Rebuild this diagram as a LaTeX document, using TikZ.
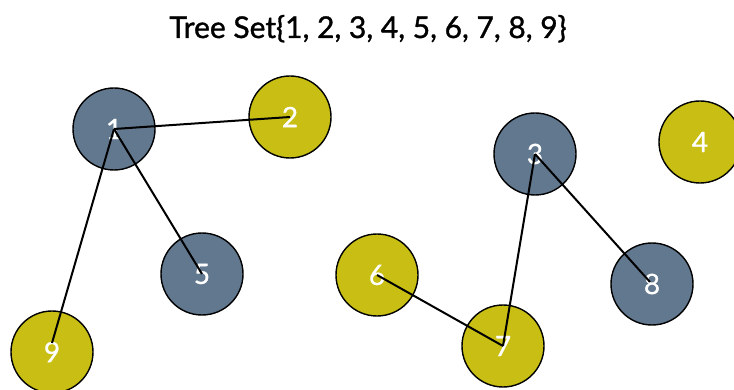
\documentclass[tikz,border=0pt]{standalone}
\usepackage{fontspec}
\setmainfont{Lato}
\newfontfamily\titlefont{Lato}[FakeBold=1.2]
\newfontfamily\digitfont{Lato}[FakeBold=0.8]
\definecolor{nodeblue}{HTML}{61788F}
\definecolor{nodeyellow}{HTML}{C8BE14}
\begin{document}
\begin{tikzpicture}[x=1pt,y=-1pt,
  treenode/.style={circle, draw=black, line width=1.4pt, minimum size=82pt, inner sep=0pt,
    text=white, font=\digitfont\fontsize{28}{28}\selectfont},
  bluenode/.style={treenode, fill=nodeblue},
  yellownode/.style={treenode, fill=nodeyellow},
  edge/.style={draw=black, line width=2pt}]
\useasboundingbox (0,0) rectangle (734,390);
\node[anchor=base, font=\titlefont\fontsize{30}{30}\selectfont] (title) at (368,38) {Tree Set\{1, 2, 3, 4, 5, 6, 7, 8, 9\}};
\node[bluenode] (n1) at (114,129) {1};
\node[yellownode] (n2) at (290,117) {2};
\node[bluenode] (n5) at (202,274) {5};
\node[yellownode] (n9) at (52,352) {9};
\node[bluenode] (n3) at (535,154) {3};
\node[yellownode] (n4) at (700,142) {4};
\node[yellownode] (n6) at (377,275) {6};
\node[yellownode] (n7) at (503,346) {7};
\node[bluenode] (n8) at (652,284) {8};
\draw[edge] (n1.center) -- (n2.center);
\draw[edge] (n1.center) -- (n5.center);
\draw[edge] (n1.center) -- ([yshift=9pt]n9.center);
\draw[edge] (n3.center) -- (n7.center);
\draw[edge] (n6.center) -- (n7.center);
\draw[edge] (n3.center) -- ([xshift=-2pt,yshift=2pt]n8.center);
\end{tikzpicture}
\end{document}
